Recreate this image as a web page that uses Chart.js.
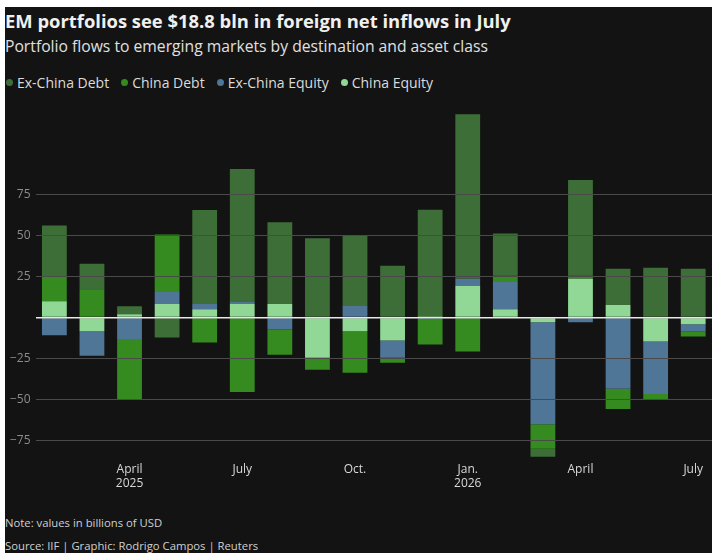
<!DOCTYPE html>
<html lang="en">
<head>
    <meta charset="UTF-8">
    <title>EM portfolio flows</title>
    <style>
        body {
            margin: 0;
            padding: 0;
            background: #fff;
            font-family: "Open Sans", "Noto Sans", sans-serif;
        }

        #panel {
            position: absolute;
            left: 5px;
            top: 7px;
            width: 707px;
            height: 546px;
            background: #131313;
            color: #e8e8e8;
            overflow: hidden;
        }

        h1 {
            position: absolute;
            left: 0;
            top: 1px;
            margin: 0;
            font-size: 18.4px;
            font-weight: bold;
            color: #f0f0f0;
            white-space: nowrap;
        }

        .sub {
            position: absolute;
            left: 0;
            top: 28px;
            margin: 0;
            font-size: 15.7px;
            color: #e0e0e0;
            white-space: nowrap;
        }

        #legend {
            position: absolute;
            left: 1px;
            top: 66px;
            font-size: 14px;
            color: #dcdcdc;
            white-space: nowrap;
        }

        #legend span.item {
            margin-right: 12px;
        }

        #legend span.dot {
            display: inline-block;
            width: 7px;
            height: 7px;
            border-radius: 50%;
            margin-right: 4px;
            vertical-align: 2px;
        }

        #chartBox {
            position: absolute;
            left: 0;
            top: 93px;
            width: 707px;
            height: 396px;
        }

        .note {
            position: absolute;
            left: 0;
            margin: 0;
            font-size: 11.3px;
            color: #d0d0d0;
            white-space: nowrap;
        }
    </style>
    <script src="https://cdn.jsdelivr.net/npm/chart.js"></script>
</head>
<body>
    <div id="panel">
        <h1>EM portfolios see $18.8 bln in foreign net inflows in July</h1>
        <p class="sub">Portfolio flows to emerging markets by destination and asset class</p>
        <div id="legend"></div>
        <div id="chartBox"><canvas id="flowChart"></canvas></div>
        <p class="note" style="top: 508px;">Note: values in billions of USD</p>
        <p class="note" style="top: 531px;">Source: IIF | Graphic: Rodrigo Campos | Reuters</p>
    </div>

    <script>
        // Monthly data, Feb 2025 - Jul 2026 (billions of USD)
        const months = ['Feb 2025', 'Mar 2025', 'Apr 2025', 'May 2025', 'Jun 2025', 'Jul 2025',
            'Aug 2025', 'Sep 2025', 'Oct 2025', 'Nov 2025', 'Dec 2025', 'Jan 2026',
            'Feb 2026', 'Mar 2026', 'Apr 2026', 'May 2026', 'Jun 2026', 'Jul 2026'];

        const tickLabels = ['', '', ['April', '2025'], '', '', 'July', '', '', 'Oct.', '', '',
            ['Jan.', '2026'], '', '', 'April', '', '', 'July'];

        const chinaEquity = [10.0, -8.4, 2.0, 8.2, 5.1, 8.2, 8.2, -24.4, -8.4, -13.9, 0.2, 19.3,
            5.1, -2.9, 23.6, 7.6, -14.5, -4.1];
        const exChinaEquity = [-10.7, -14.8, -13.1, 7.4, 3.1, 1.8, -7.2, -0.8, 7.0, -10.5, -0.8, 4.3,
            16.6, -62.1, -2.9, -43.4, -32.0, -4.3];
        const chinaDebt = [15.0, 16.8, -36.5, 35.0, -15.2, -45.3, -15.4, -6.6, -25.2, -3.1, -15.6, -20.7,
            3.7, -14.8, 1.8, -12.3, -3.1, -3.1];
        const exChinaDebt = [31.1, 16.0, 4.9, -12.1, 57.2, 80.5, 49.8, 48.2, 43.0, 31.6, 65.4, 100.2,
            25.8, -4.9, 58.4, 22.1, 30.3, 29.7];

        const yTicks = [-75, -50, -25, 0, 25, 50, 75];

        // legend is drawn in reverse of the stacking order
        const series = [
            { label: 'Ex-China Debt', data: exChinaDebt, color: '#3e6e37' },
            { label: 'China Debt', data: chinaDebt, color: '#358b1f' },
            { label: 'Ex-China Equity', data: exChinaEquity, color: '#4f7597' },
            { label: 'China Equity', data: chinaEquity, color: '#91d796' }
        ];

        const legend = document.getElementById('legend');
        series.forEach(function (s) {
            const item = document.createElement('span');
            item.className = 'item';
            item.innerHTML = '<span class="dot" style="background:' + s.color + '"></span>' + s.label;
            legend.appendChild(item);
        });

        const stacked = series.slice().reverse();

        new Chart(document.getElementById('flowChart'), {
            type: 'bar',
            data: {
                labels: months,
                datasets: stacked.map(function (s) {
                    return {
                        label: s.label,
                        data: s.data,
                        backgroundColor: s.color,
                        borderWidth: 0,
                        barPercentage: 0.66,
                        categoryPercentage: 1
                    };
                })
            },
            options: {
                responsive: true,
                maintainAspectRatio: false,
                animation: false,
                layout: { padding: 0 },
                plugins: {
                    legend: { display: false },
                    tooltip: { enabled: false }
                },
                scales: {
                    x: {
                        stacked: true,
                        grid: { display: false, drawTicks: false },
                        border: { display: false },
                        ticks: {
                            autoSkip: false,
                            maxRotation: 0,
                            color: '#d8d8d8',
                            font: { family: 'Open Sans', size: 12 },
                            padding: 5,
                            callback: function (value, index) {
                                return tickLabels[index];
                            }
                        }
                    },
                    y: {
                        stacked: true,
                        min: -85,
                        max: 125,
                        afterBuildTicks: function (axis) {
                            axis.ticks = yTicks.map(function (v) { return { value: v }; });
                        },
                        border: { display: false },
                        grid: {
                            drawTicks: false,
                            color: function (ctx) {
                                return ctx.tick && ctx.tick.value === 0 ? '#e8e8e8' : '#4a4a4a';
                            },
                            lineWidth: function (ctx) {
                                return ctx.tick && ctx.tick.value === 0 ? 1.5 : 1;
                            },
                            z: 1
                        },
                        ticks: {
                            color: '#8c8c8c',
                            font: { family: 'Open Sans', size: 12 },
                            padding: 5,
                            callback: function (value) {
                                if (value === 0) return '';
                                return value < 0 ? '\u2212' + Math.abs(value) : String(value);
                            }
                        }
                    }
                }
            }
        });
    </script>
</body>
</html>
